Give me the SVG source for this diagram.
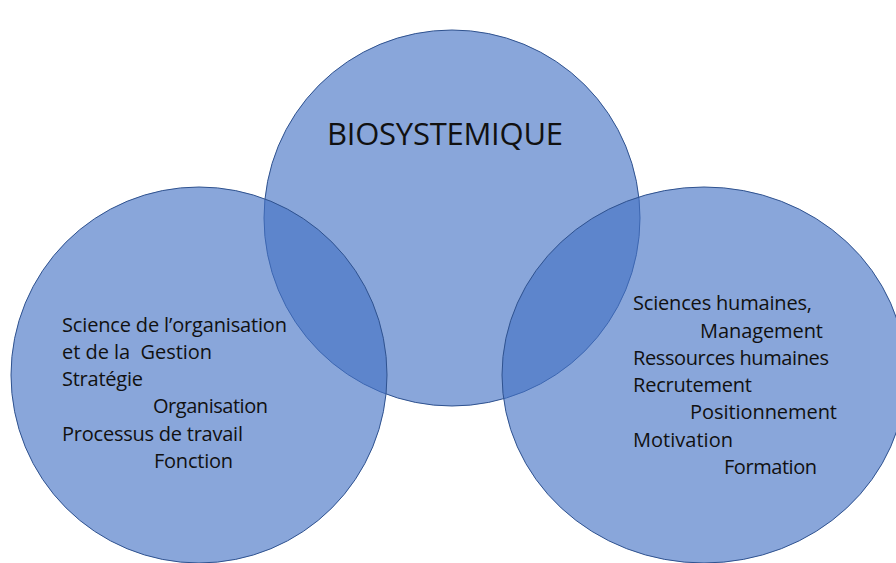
<svg xmlns="http://www.w3.org/2000/svg" width="896" height="563" viewBox="0 0 896 563">
<style>
.c{fill:#4472C4;fill-opacity:0.63;stroke:#2F528F;stroke-width:1}
.t{font-family:"Open Sans","Noto Sans","Liberation Sans",sans-serif;font-size:20px;fill:#111;white-space:pre}
.h{font-family:"Open Sans","Noto Sans","Liberation Sans",sans-serif;font-size:31px;fill:#111}
</style>
<rect width="896" height="563" fill="#fff"/>
<g id="center">
<circle class="c" cx="452" cy="218" r="188"/>
<text class="h" x="327" y="145" textLength="236">BIOSYSTEMIQUE</text>
</g>
<g id="left">
<circle class="c" cx="199" cy="375" r="188"/>
<text class="t" x="62" y="332" textLength="225">Science de l’organisation</text>
<text class="t" x="62" y="359" textLength="150">et de la  Gestion</text>
<text class="t" x="62" y="386" textLength="81">Stratégie</text>
<text class="t" x="153" y="413" textLength="115">Organisation</text>
<text class="t" x="62" y="441" textLength="181">Processus de travail</text>
<text class="t" x="154" y="468" textLength="79">Fonction</text>
</g>
<g id="right">
<ellipse class="c" cx="704" cy="375" rx="202" ry="188"/>
<text class="t" x="633" y="310" textLength="179">Sciences humaines,</text>
<text class="t" x="700" y="338" textLength="123">Management</text>
<text class="t" x="633" y="365" textLength="196">Ressources humaines</text>
<text class="t" x="633" y="392" textLength="119">Recrutement</text>
<text class="t" x="690" y="419" textLength="147">Positionnement</text>
<text class="t" x="633" y="447" textLength="100">Motivation</text>
<text class="t" x="724" y="474" textLength="93">Formation</text>
</g>
</svg>
